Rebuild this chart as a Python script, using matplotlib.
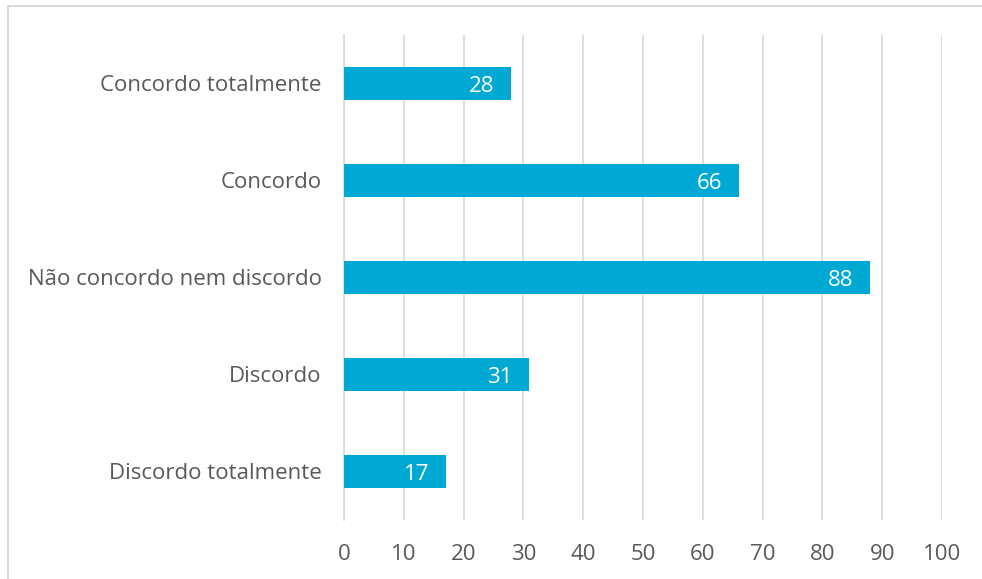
import numpy as np
import matplotlib.pyplot as plt

# Survey answers and counts (top to bottom)
categories = ["Concordo totalmente", "Concordo", "Não concordo nem discordo",
              "Discordo", "Discordo totalmente"]
values = [28, 66, 88, 31, 17]
xticks = list(range(0, 101, 10))

bar_color = "#00A9D3"
text_color = "#595959"
grid_color = "#D9D9D9"

plt.rcParams['font.family'] = ['Open Sans', 'DejaVu Sans']

fig = plt.figure(figsize=(9.82, 5.79), dpi=100)
ax = fig.add_axes([0.3503, 0.1019, 0.6090, 0.8377])

y = np.arange(len(categories))
bars = ax.barh(y, values, height=0.34, color=bar_color, zorder=3)

# value labels inside the bar ends
for b, v in zip(bars, values):
    ax.annotate(str(v), xy=(b.get_width(), b.get_y() + b.get_height() / 2),
                xytext=(-12, -2), textcoords='offset points',
                ha='right', va='center', color='white', fontsize=16, zorder=4)

ax.set_yticks(y)
ax.set_yticklabels(categories)
ax.set_ylim(len(categories) - 0.5, -0.5)
ax.set_xlim(0, 100)
ax.set_xticks(xticks)

ax.tick_params(axis='both', length=0, colors=text_color, labelsize=16)
ax.tick_params(axis='y', pad=16)
ax.tick_params(axis='x', pad=17)

ax.grid(axis='x', color=grid_color, linewidth=1.2, zorder=0)
for s in ['top', 'right', 'bottom']:
    ax.spines[s].set_visible(False)
ax.spines['left'].set_color(grid_color)
ax.spines['left'].set_linewidth(1.2)

# light frame around the whole chart
frame = plt.Rectangle((8 / 982, -0.01), 1.0, 1 - 6 / 579 + 0.01,
                      transform=fig.transFigure, fill=False,
                      edgecolor=grid_color, linewidth=1.5)
fig.patches.append(frame)

fig.savefig('out.png', dpi=100)
